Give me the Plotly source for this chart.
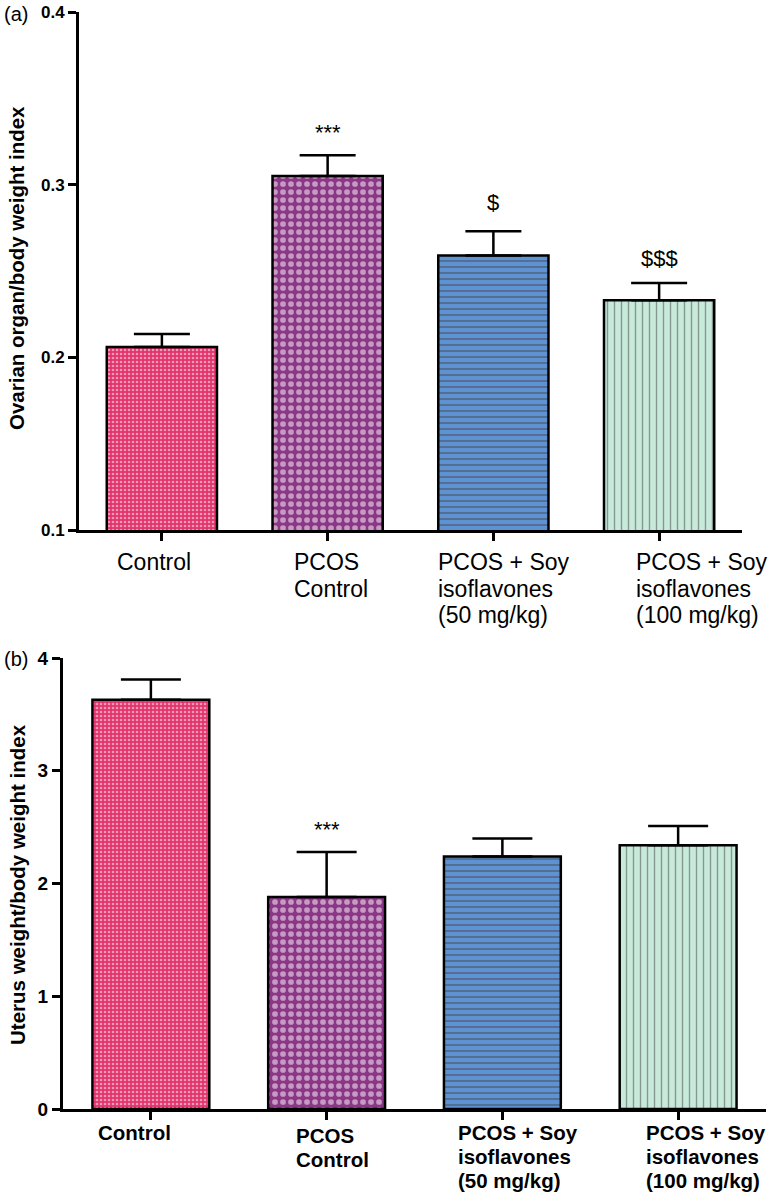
import plotly.graph_objects as go

# ---------------- data ----------------
groups = ["Control", "PCOS Control", "PCOS + Soy 50", "PCOS + Soy 100"]
labels_a = ["Control", "PCOS<br>Control", "PCOS + Soy<br>isoflavones<br>(50 mg/kg)", "PCOS + Soy<br>isoflavones<br>(100 mg/kg)"]
labels_b = ["Control", "PCOS<br>Control", "PCOS + Soy<br>isoflavones<br>(50 mg/kg)", "PCOS + Soy<br>isoflavones<br>(100 mg/kg)"]

ovary_mean = [0.206, 0.305, 0.259, 0.233]
ovary_sem = [0.0075, 0.012, 0.014, 0.010]
ovary_sig = ["", "***", "$", "$$$"]

uterus_mean = [3.63, 1.88, 2.24, 2.34]
uterus_sem = [0.18, 0.40, 0.16, 0.17]
uterus_sig = ["", "***", "", ""]

y_ticks_a = [0.1, 0.2, 0.3, 0.4]
y_ticks_b = [0, 1, 2, 3, 4]

# ---------------- styles ----------------
FONT = "Liberation Sans, Arial, sans-serif"
bg_colors = ["#e2336d", "#8a3786", "#5f92d2", "#c8eadb"]
fg_colors = ["#f0649a", "#a557a1", "#3c5aa4", "#8cc8ab"]
shapes = [".", ".", "-", "|"]
psizes = [4, 8, 6, 7]
solid = [0.35, 0.4, 0.3, 0.2]

W, H = 771, 1194

fig = go.Figure()

def add_panel(means, sems, xa, ya, capw):
    fig.add_trace(go.Bar(
        x=groups, y=means, xaxis=xa, yaxis=ya, width=0.665,
        marker=dict(
            color=bg_colors,
            line=dict(color="black", width=2.5),
            pattern=dict(shape=shapes, fgcolor=fg_colors, bgcolor=bg_colors,
                         size=psizes, solidity=solid, fillmode="overlay"),
        ),
        error_y=dict(type="data", symmetric=False, array=sems,
                     arrayminus=[0] * len(sems), color="black",
                     thickness=2.5, width=capw),
        showlegend=False, hoverinfo="skip",
    ))

add_panel(ovary_mean, ovary_sem, "x", "y", 28)
add_panel(uterus_mean, uterus_sem, "x2", "y2", 30)

axis_common = dict(showline=True, linecolor="black", linewidth=3, ticks="outside",
                   tickcolor="black", tickwidth=3, ticklen=8, showgrid=False,
                   zeroline=False, automargin=False)

fig.update_layout(
    width=W, height=H, margin=dict(l=0, r=0, t=0, b=0),
    paper_bgcolor="white", plot_bgcolor="white",
    font=dict(family=FONT, color="black"),
    xaxis=dict(domain=[79 / W, 742 / W], anchor="y", range=[-0.5, 3.5],
               type="category", showticklabels=False, **axis_common),
    yaxis=dict(domain=[1 - 530 / H, 1 - 12 / H], anchor="x", range=[0.1, 0.4],
               tickvals=y_ticks_a, ticktext=[f"{v:.1f}" for v in y_ticks_a],
               tickfont=dict(size=17, family=FONT, weight="bold"), **axis_common),
    xaxis2=dict(domain=[63 / W, 766 / W], anchor="y2", range=[-0.5, 3.5],
                type="category", showticklabels=False, **axis_common),
    yaxis2=dict(domain=[1 - 1109 / H, 1 - 658 / H], anchor="x2", range=[0, 4],
                tickvals=y_ticks_b, ticktext=[str(v) for v in y_ticks_b],
                tickfont=dict(size=19, family=FONT, weight="bold"), **axis_common),
)

ann = []
# x category labels, panel (a) - left aligned blocks, one annotation per line
xoff_a = [-47, -36, -57, -25]
for g, lab, dx in zip(groups, labels_a, xoff_a):
    for i, line in enumerate(lab.split("<br>")):
        ann.append(dict(x=g, y=0.1, xref="x", yref="y", text=line, showarrow=False,
                        xanchor="left", yanchor="middle", xshift=dx,
                        yshift=-(32 + 26.5 * i), font=dict(size=23, family=FONT)))
# panel (b)
xoff_b = [-55, -33, -46, -34]
ystart_b = [23, 26, 23, 23]
for g, lab, dx, y0 in zip(groups, labels_b, xoff_b, ystart_b):
    for i, line in enumerate(lab.split("<br>")):
        ann.append(dict(x=g, y=0, xref="x2", yref="y2", text=line, showarrow=False,
                        xanchor="left", yanchor="middle", xshift=dx,
                        yshift=-(y0 + 24 * i),
                        font=dict(size=20.5, family=FONT, weight="bold")))
# significance markers
sig_shift = {"***": 8, "$": 14, "$$$": 10}
for g, m, s, t in zip(groups, ovary_mean, ovary_sem, ovary_sig):
    if t:
        ann.append(dict(x=g, y=m + s, xref="x", yref="y", text=t, showarrow=False,
                        yanchor="bottom", yshift=sig_shift[t],
                        font=dict(size=22, family=FONT)))
for g, m, s, t in zip(groups, uterus_mean, uterus_sem, uterus_sig):
    if t:
        ann.append(dict(x=g, y=m + s, xref="x2", yref="y2", text=t, showarrow=False,
                        yanchor="bottom", yshift=sig_shift[t],
                        font=dict(size=22, family=FONT)))
# axis titles
ann.append(dict(x=17 / W, y=1 - 268 / H, xref="paper", yref="paper",
                xanchor="center", yanchor="middle",
                text="Ovarian organ/body weight index", textangle=-90, showarrow=False,
                font=dict(size=20.5, family=FONT, weight="bold")))
ann.append(dict(x=17 / W, y=1 - 885 / H, xref="paper", yref="paper",
                xanchor="center", yanchor="middle",
                text="Uterus weight/body weight index", textangle=-90, showarrow=False,
                font=dict(size=20.5, family=FONT, weight="bold")))
# panel letters
ann.append(dict(x=2 / W, y=1 - 1 / H, xref="paper", yref="paper", text="(a)",
                showarrow=False, xanchor="left", yanchor="top", font=dict(size=20, family=FONT)))
ann.append(dict(x=2 / W, y=1 - 646 / H, xref="paper", yref="paper", text="(b)",
                showarrow=False, xanchor="left", yanchor="top", font=dict(size=20, family=FONT)))

fig.update_layout(annotations=ann)
fig.write_html("out.html", config={"displayModeBar": False},
               post_script="document.body.style.margin='0';document.body.style.overflow='hidden';")
